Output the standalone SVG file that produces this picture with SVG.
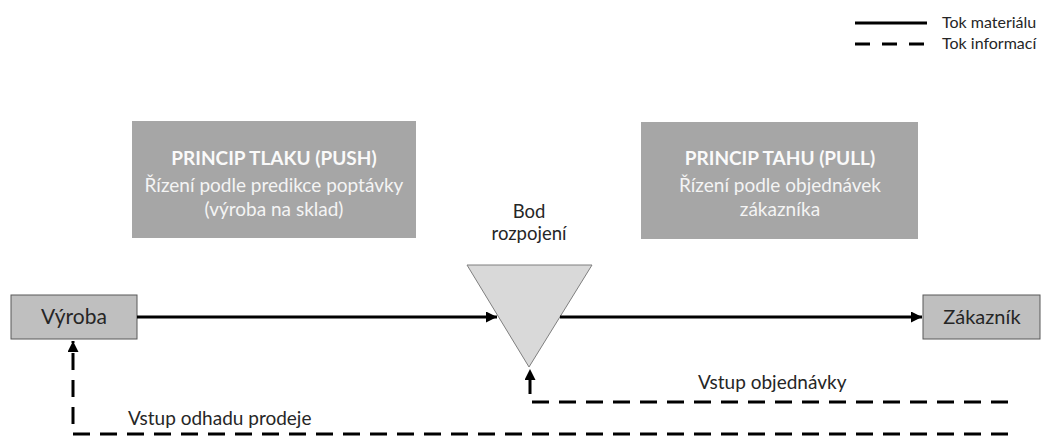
<svg xmlns="http://www.w3.org/2000/svg" width="1042" height="436" viewBox="0 0 1042 436">
<defs>
<style>
.t{font-family:Lato,"Open Sans","Liberation Sans",sans-serif;}
.box{fill:#a6a6a6;}
.wt{fill:#f4f4f4;font-size:19px;text-anchor:middle;}
.wb{font-weight:bold;fill:#fafafa;}
.dk{fill:#262626;font-size:19px;}
.bod{fill:#262626;font-size:18.5px;text-anchor:middle;}
.node{fill:#bfbfbf;stroke:#595959;stroke-width:1;}
.solid{stroke:#000;stroke-width:3;fill:none;}
.dash{stroke:#000;stroke-width:3;fill:none;stroke-dasharray:17 10;}
</style>
<marker id="ah" viewBox="0 0 10 10" refX="10" refY="5" markerWidth="12" markerHeight="11" markerUnits="userSpaceOnUse" orient="auto">
<path d="M0,0 L10,5 L0,10 Z" fill="#000"/>
</marker>
</defs>
<rect width="1042" height="436" fill="#fff"/>
<g id="legend">
<line x1="855" y1="23" x2="927" y2="23" class="solid"/>
<line x1="855" y1="44" x2="927" y2="44" class="dash" style="stroke-dasharray:15 12"/>
<text x="942" y="28" class="t" font-size="16" fill="#262626">Tok materiálu</text>
<text x="942" y="49" class="t" font-size="16" fill="#262626">Tok informací</text>
</g>
<g id="push">
<rect x="132" y="121" width="284" height="117" class="box"/>
<text x="274" y="165" class="t wt wb">PRINCIP TLAKU (PUSH)</text>
<text x="274" y="192" class="t wt">Řízení podle predikce poptávky</text>
<text x="274" y="216" class="t wt">(výroba na sklad)</text>
</g>
<g id="pull">
<rect x="641" y="122" width="277" height="117" class="box"/>
<text x="780" y="165" class="t wt wb">PRINCIP TAHU (PULL)</text>
<text x="780" y="192" class="t wt">Řízení podle objednávek</text>
<text x="780" y="216" class="t wt">zákazníka</text>
</g>
<g id="bod">
<polygon points="467,265 592,265 529,367" fill="#d9d9d9" stroke="#7f7f7f" stroke-width="1"/>
<text x="529" y="218" class="t bod">Bod</text>
<text x="529" y="240" class="t bod">rozpojení</text>
</g>
<g id="vyroba">
<rect x="11" y="295" width="126" height="44" class="node"/>
<text x="74" y="324" class="t dk" text-anchor="middle" style="font-size:21px">Výroba</text>
</g>
<g id="zakaznik">
<rect x="923" y="295" width="117" height="44" class="node"/>
<text x="982" y="324" class="t dk" text-anchor="middle" style="font-size:20px">Zákazník</text>
</g>
<g id="connectors">
<line x1="137" y1="317" x2="497" y2="317" class="solid" marker-end="url(#ah)"/>
<line x1="560" y1="317" x2="922" y2="317" class="solid" marker-end="url(#ah)"/>
<path d="M1008,402 H530 V369" class="dash" marker-end="url(#ah)"/>
<path d="M1008,434 H73 V341" class="dash" marker-end="url(#ah)"/>
<text x="698" y="389" class="t dk">Vstup objednávky</text>
<text x="128" y="425" class="t dk">Vstup odhadu prodeje</text>
</g>
</svg>
